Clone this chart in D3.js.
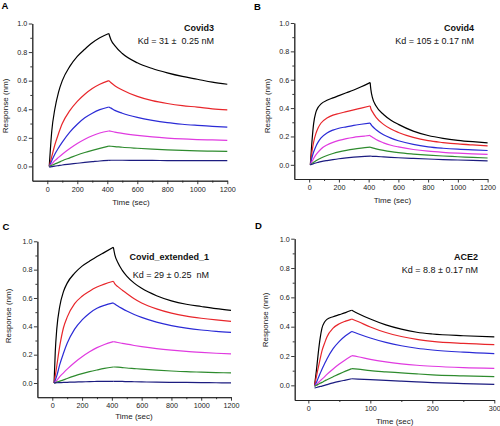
<!DOCTYPE html>
<html>
<head>
<meta charset="utf-8">
<script src="https://cdn.jsdelivr.net/npm/d3@7"></script>
<style>
  body { margin: 0; background: #fff; }
  svg { display: block; font-family: "Liberation Sans", Arial, sans-serif; }
</style>
</head>
<body>
<div id="chart"></div>
<script>
// ---- data ----
const seriesColors = ["#000000", "#e8262b", "#2b2bd6", "#e03ae0", "#2e8b2e", "#1c1c80"];

// A: Covid3
const timesA = [13, 30, 50, 75, 100, 150, 200, 250, 300, 350, 410, 425, 450, 500, 600, 700, 800, 900, 1000, 1100, 1200];
const blackA = [0, 0.25, 0.40, 0.52, 0.60, 0.70, 0.77, 0.82, 0.865, 0.90, 0.93, 0.885, 0.845, 0.79, 0.725, 0.685, 0.655, 0.63, 0.61, 0.59, 0.575];
const redA = [0, 0.07, 0.15, 0.23, 0.30, 0.39, 0.455, 0.505, 0.545, 0.575, 0.60, 0.585, 0.565, 0.535, 0.49, 0.46, 0.44, 0.425, 0.415, 0.403, 0.395];
const blueA = [0, 0.04, 0.085, 0.13, 0.17, 0.24, 0.295, 0.34, 0.372, 0.397, 0.416, 0.408, 0.392, 0.372, 0.343, 0.322, 0.306, 0.295, 0.287, 0.28, 0.275];
const magentaA = [0, 0.018, 0.04, 0.063, 0.085, 0.125, 0.16, 0.19, 0.215, 0.234, 0.248, 0.246, 0.24, 0.231, 0.217, 0.206, 0.198, 0.192, 0.188, 0.185, 0.182];
const greenA = [0, 0.008, 0.017, 0.028, 0.04, 0.06, 0.08, 0.097, 0.112, 0.126, 0.142, 0.141, 0.139, 0.134, 0.127, 0.121, 0.116, 0.112, 0.109, 0.107, 0.105];
const navyA = [-0.005, -0.002, 0.002, 0.006, 0.01, 0.016, 0.022, 0.028, 0.033, 0.038, 0.042, 0.043, 0.043, 0.043, 0.042, 0.042, 0.041, 0.041, 0.04, 0.04, 0.04];

// B: Covid4
const timesB = [8, 20, 30, 45, 60, 80, 120, 160, 200, 250, 300, 350, 410, 415, 425, 450, 500, 550, 600, 700, 800, 900, 1000, 1100, 1200];
const blackB = [0, 0.18, 0.29, 0.37, 0.405, 0.43, 0.455, 0.472, 0.488, 0.508, 0.528, 0.55, 0.58, 0.53, 0.475, 0.415, 0.355, 0.315, 0.285, 0.238, 0.207, 0.187, 0.173, 0.163, 0.155];
const redB = [0, 0.10, 0.16, 0.22, 0.26, 0.295, 0.33, 0.35, 0.362, 0.375, 0.388, 0.40, 0.415, 0.395, 0.375, 0.335, 0.285, 0.252, 0.228, 0.193, 0.17, 0.157, 0.147, 0.14, 0.134];
const blueB = [0, 0.055, 0.09, 0.13, 0.16, 0.19, 0.225, 0.245, 0.258, 0.268, 0.278, 0.286, 0.295, 0.285, 0.272, 0.247, 0.212, 0.188, 0.17, 0.144, 0.127, 0.117, 0.11, 0.105, 0.101];
const magentaB = [0, 0.025, 0.045, 0.07, 0.09, 0.112, 0.14, 0.158, 0.172, 0.185, 0.194, 0.2, 0.207, 0.202, 0.195, 0.178, 0.155, 0.138, 0.126, 0.108, 0.096, 0.088, 0.082, 0.077, 0.073];
const greenB = [0, 0.01, 0.018, 0.028, 0.037, 0.048, 0.066, 0.08, 0.091, 0.102, 0.111, 0.118, 0.125, 0.123, 0.12, 0.113, 0.102, 0.093, 0.086, 0.076, 0.068, 0.062, 0.057, 0.052, 0.048];
const navyB = [0, 0.004, 0.008, 0.013, 0.017, 0.022, 0.03, 0.037, 0.043, 0.049, 0.054, 0.058, 0.061, 0.061, 0.06, 0.059, 0.056, 0.053, 0.05, 0.045, 0.041, 0.037, 0.034, 0.031, 0.028];

// C: Covid_extended_1
const timesC = [12, 20, 30, 50, 75, 100, 150, 200, 250, 300, 350, 410, 420, 440, 470, 500, 550, 600, 700, 800, 900, 1000, 1100, 1200];
const blackC = [0, 0.22, 0.38, 0.54, 0.645, 0.705, 0.775, 0.825, 0.86, 0.893, 0.922, 0.958, 0.905, 0.85, 0.795, 0.755, 0.705, 0.668, 0.616, 0.58, 0.556, 0.54, 0.525, 0.513];
const redC = [0, 0.05, 0.12, 0.26, 0.39, 0.465, 0.56, 0.612, 0.648, 0.677, 0.698, 0.718, 0.70, 0.68, 0.655, 0.632, 0.595, 0.565, 0.523, 0.493, 0.472, 0.457, 0.445, 0.435];
const blueC = [0, 0.02, 0.05, 0.13, 0.21, 0.28, 0.38, 0.445, 0.493, 0.527, 0.548, 0.565, 0.557, 0.543, 0.525, 0.508, 0.484, 0.463, 0.43, 0.405, 0.387, 0.374, 0.365, 0.358];
const magentaC = [0, 0.008, 0.018, 0.045, 0.072, 0.098, 0.145, 0.185, 0.22, 0.25, 0.272, 0.292, 0.29, 0.286, 0.28, 0.274, 0.265, 0.257, 0.243, 0.232, 0.223, 0.216, 0.21, 0.205];
const greenC = [0, 0.002, 0.006, 0.013, 0.022, 0.032, 0.05, 0.066, 0.08, 0.092, 0.103, 0.113, 0.113, 0.112, 0.109, 0.106, 0.102, 0.098, 0.091, 0.085, 0.08, 0.077, 0.074, 0.071];
const navyC = [0, 0.001, 0.002, 0.003, 0.004, 0.005, 0.007, 0.008, 0.01, 0.011, 0.012, 0.012, 0.012, 0.011, 0.011, 0.01, 0.009, 0.008, 0.006, 0.005, 0.004, 0.003, 0.002, 0.001];

// D: ACE2
const timesD = [10, 13, 16, 19, 22, 26, 30, 40, 50, 60, 70, 80, 100, 125, 150, 175, 200, 250, 300];
const blackD = [0, 0.10, 0.22, 0.32, 0.39, 0.43, 0.45, 0.468, 0.482, 0.496, 0.512, 0.49, 0.452, 0.412, 0.383, 0.362, 0.35, 0.338, 0.33];
const redD = [0, 0.06, 0.12, 0.18, 0.235, 0.285, 0.33, 0.39, 0.42, 0.438, 0.452, 0.435, 0.398, 0.36, 0.333, 0.313, 0.30, 0.286, 0.277];
const blueD = [-0.005, 0.02, 0.05, 0.08, 0.11, 0.145, 0.18, 0.25, 0.30, 0.338, 0.368, 0.352, 0.323, 0.293, 0.27, 0.253, 0.241, 0.226, 0.216];
const magentaD = [-0.005, 0.005, 0.018, 0.03, 0.042, 0.058, 0.075, 0.112, 0.145, 0.175, 0.202, 0.195, 0.177, 0.16, 0.147, 0.137, 0.13, 0.121, 0.116];
const greenD = [-0.008, 0, 0.007, 0.014, 0.02, 0.03, 0.038, 0.058, 0.078, 0.097, 0.114, 0.11, 0.10, 0.092, 0.085, 0.078, 0.072, 0.065, 0.059];
const navyD = [-0.018, -0.015, -0.011, -0.008, -0.005, 0, 0.005, 0.017, 0.027, 0.036, 0.045, 0.043, 0.039, 0.034, 0.029, 0.024, 0.019, 0.012, 0.006];

const panelLetters = ["A", "B", "C", "D"];
const panelNames = ["Covid3", "Covid4", "Covid_extended_1", "ACE2"];
const kdLabels = ["Kd = 31 \u00b1  0.25 nM", "Kd = 105 \u00b1 0.17 nM", "Kd = 29 \u00b1 0.25  nM", "Kd = 8.8 \u00b1 0.17 nM"];
const assocEnds = [410, 410, 410, 70];
const xTicksLong = [0, 200, 400, 600, 800, 1000, 1200];
const xTicksShort = [0, 100, 200, 300];
const yTicks = [0, 0.2, 0.4, 0.6, 0.8, 1.0];

// ---- layout (pixels) ----
const W = 500, H = 426;
const panels = [
    { times: timesA, series: [blackA, redA, blueA, magentaA, greenA, navyA], xDomain: [-100, 1200], xTicks: xTicksLong, xMinor: 100,
      left: 32.3, right: 227.3, top: 23.5, bottom: 180.7,
      letter: [1.5, 8.8], label: [214, 31, 43.5], yTitle: [5.5, 106], xTitle: [131, 204.5] },
    { times: timesB, series: [blackB, redB, blueB, magentaB, greenB, navyB], xDomain: [-100, 1200], xTicks: xTicksLong, xMinor: 100,
      left: 294.3, right: 487.6, top: 23, bottom: 179,
      letter: [254, 10], label: [474, 31, 43.5], yTitle: [267, 106], xTitle: [392.5, 203] },
    { times: timesC, series: [blackC, redC, blueC, magentaC, greenC, navyC], xDomain: [-100, 1200], xTicks: xTicksLong, xMinor: 100,
      left: 37.4, right: 231, top: 241.3, bottom: 397.2,
      letter: [2.5, 230], label: [209, 260, 277.5], yTitle: [8.5, 316], xTitle: [134, 419] },
    { times: timesD, series: [blackD, redD, blueD, magentaD, greenD, navyD], xDomain: [-22, 300], xTicks: xTicksShort, xMinor: 50,
      left: 294.7, right: 494.3, top: 238.7, bottom: 400,
      letter: [255, 228.7], label: [478, 260, 273], yTitle: [265, 320], xTitle: [394.7, 424] }
];

const svg = d3.select("#chart").append("svg")
    .attr("width", W)
    .attr("height", H);

panels.forEach((p, i) => drawPanel(p, i));

function drawPanel(p, i) {
    const x = d3.scaleLinear().domain(p.xDomain).range([p.left, p.right]);
    const y = d3.scaleLinear().domain([-0.1, 1.0]).range([p.bottom, p.top]);
    const g = svg.append("g");

    // minor ticks first, majors on top
    const xMinorVals = d3.range(0, p.xDomain[1] + 1, p.xMinor).filter(v => !p.xTicks.includes(v));
    const yMinorVals = [0.1, 0.3, 0.5, 0.7, 0.9];
    g.append("g").attr("class", "minor")
        .attr("transform", `translate(0,${p.bottom})`)
        .call(d3.axisBottom(x).tickValues(xMinorVals).tickSize(2).tickSizeOuter(0).tickFormat(""));
    g.append("g").attr("class", "minor")
        .attr("transform", `translate(${p.left},0)`)
        .call(d3.axisLeft(y).tickValues(yMinorVals).tickSize(2).tickSizeOuter(0).tickFormat(""));

    g.append("g").attr("class", "axis")
        .attr("transform", `translate(0,${p.bottom})`)
        .call(d3.axisBottom(x).tickValues(p.xTicks).tickSize(3.5).tickSizeOuter(0).tickPadding(2.5).tickFormat(d3.format("d")));
    g.append("g").attr("class", "axis")
        .attr("transform", `translate(${p.left},0)`)
        .call(d3.axisLeft(y).tickValues(yTicks).tickSize(3.5).tickSizeOuter(0).tickPadding(1.5).tickFormat(d3.format(".1f")));

    g.selectAll(".axis text, .minor text")
        .attr("font-size", 7.2)
        .attr("font-family", "Liberation Sans, Arial, sans-serif")
        .attr("fill", "#222");
    g.selectAll("path.domain, .tick line")
        .attr("stroke", "#222")
        .attr("stroke-width", 0.9);

    // sensorgram curves, association and dissociation drawn as separate pieces
    const line = d3.line()
        .x(d => x(d[0]))
        .y(d => y(d[1]))
        .curve(d3.curveMonotoneX);
    const split = p.times.indexOf(assocEnds[i]);

    p.series.forEach((vals, k) => {
        const pts = p.times.map((t, j) => [t, vals[j]]);
        [pts.slice(0, split + 1), pts.slice(split)].forEach(seg => {
            g.append("path")
                .attr("d", line(seg))
                .attr("fill", "none")
                .attr("stroke", seriesColors[k])
                .attr("stroke-width", 1.2)
                .attr("stroke-linejoin", "round");
        });
    });

    // texts
    g.append("text")
        .attr("x", p.letter[0]).attr("y", p.letter[1])
        .attr("font-size", 9.5).attr("font-weight", "bold")
        .text(panelLetters[i]);
    g.append("text")
        .attr("x", p.label[0]).attr("y", p.label[1])
        .attr("text-anchor", "end")
        .attr("font-size", 9).attr("font-weight", "bold").attr("fill", "#111")
        .text(panelNames[i]);
    g.append("text")
        .attr("x", p.label[0]).attr("y", p.label[2])
        .attr("text-anchor", "end")
        .attr("font-size", 9).attr("fill", "#111")
        .style("white-space", "pre")
        .text(kdLabels[i]);
    g.append("text")
        .attr("x", p.xTitle[0]).attr("y", p.xTitle[1])
        .attr("text-anchor", "middle")
        .attr("font-size", 8).attr("fill", "#222")
        .text("Time (sec)");
    g.append("text")
        .attr("transform", `translate(${p.yTitle[0]},${p.yTitle[1]}) rotate(-90)`)
        .attr("text-anchor", "middle")
        .attr("dominant-baseline", "central")
        .attr("font-size", 8).attr("fill", "#222")
        .text("Response (nm)");
}
</script>
</body>
</html>
